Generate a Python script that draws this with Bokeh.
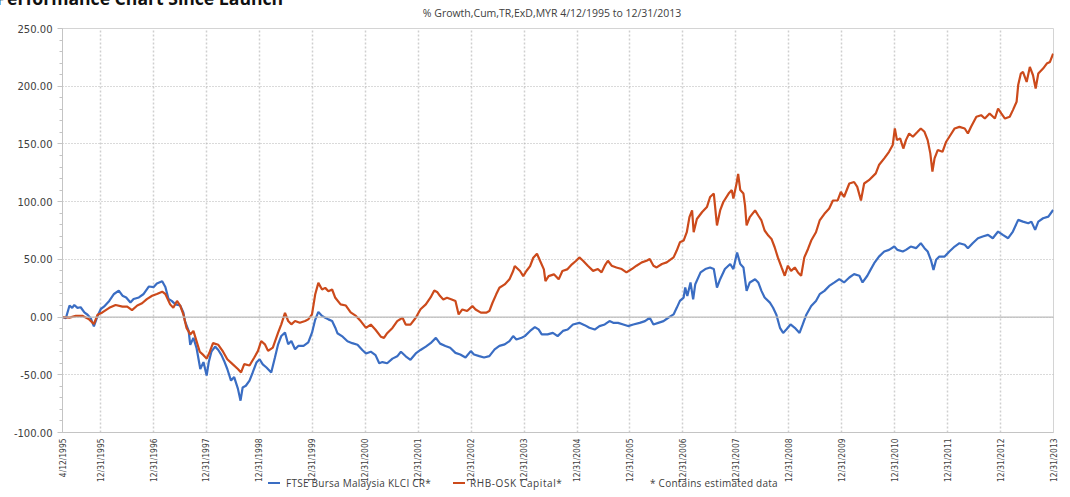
from bokeh.plotting import figure
from bokeh.models import (Range1d, FixedTicker, CustomJSTickFormatter, NumeralTickFormatter,
                          Span, Div)
from bokeh.layouts import column
from bokeh.embed import file_html
from bokeh.resources import INLINE

# ---------------- data (decimal years, % growth) ----------------
x_ticks = [1995.277, 1995.997, 1996.997, 1997.997, 1998.997, 1999.997, 2000.997, 2001.997,
           2002.997, 2003.997, 2004.997, 2005.997, 2006.997, 2007.997, 2008.997, 2009.997,
           2010.997, 2011.997, 2012.997, 2013.997]
x_labels = ["4/12/1995", "12/31/1995", "12/31/1996", "12/31/1997", "12/31/1998", "12/31/1999",
            "12/31/2000", "12/31/2001", "12/31/2002", "12/31/2003", "12/31/2004", "12/31/2005",
            "12/31/2006", "12/31/2007", "12/31/2008", "12/31/2009", "12/31/2010", "12/31/2011",
            "12/31/2012", "12/31/2013"]
y_ticks = [-100, -50, 0, 50, 100, 150, 200, 250]

klci_dates = [
    1995.28, 1995.34, 1995.41, 1995.46, 1995.50, 1995.56, 1995.62, 1995.69, 1995.75, 1995.81, 1995.87, 1995.94,
    1996.00, 1996.06, 1996.16, 1996.25, 1996.34, 1996.41, 1996.48, 1996.56, 1996.62, 1996.72, 1996.81, 1996.91,
    1997.00, 1997.06, 1997.16, 1997.22, 1997.28, 1997.34, 1997.41, 1997.50, 1997.56, 1997.59, 1997.66, 1997.69, 1997.75, 1997.81, 1997.88, 1997.94,
    1998.00, 1998.04, 1998.09, 1998.16, 1998.22, 1998.28, 1998.33, 1998.39, 1998.46, 1998.52, 1998.59, 1998.64, 1998.68, 1998.74, 1998.81, 1998.87, 1998.94,
    1999.00, 1999.06, 1999.13, 1999.22, 1999.29, 1999.35, 1999.41, 1999.48, 1999.54, 1999.60, 1999.67, 1999.73, 1999.83, 1999.92, 1999.99,
    2000.05, 2000.11, 2000.18, 2000.24, 2000.30, 2000.37, 2000.43, 2000.47, 2000.57, 2000.66, 2000.75, 2000.85, 2000.94,
    2001.01, 2001.10, 2001.19, 2001.26, 2001.32, 2001.41, 2001.51, 2001.60, 2001.67, 2001.76, 2001.85, 2001.95,
    2002.04, 2002.14, 2002.23, 2002.33, 2002.41, 2002.51, 2002.60, 2002.70, 2002.79, 2002.89, 2002.99,
    2003.05, 2003.15, 2003.24, 2003.34, 2003.44, 2003.53, 2003.63, 2003.72, 2003.79, 2003.85, 2003.95,
    2004.01, 2004.11, 2004.20, 2004.27, 2004.33, 2004.44, 2004.54, 2004.63, 2004.73, 2004.82, 2004.92,
    2005.04, 2005.14, 2005.23, 2005.33, 2005.42, 2005.52, 2005.61, 2005.68, 2005.77, 2005.87, 2005.96,
    2006.06, 2006.18, 2006.28, 2006.37, 2006.44, 2006.53, 2006.63, 2006.72, 2006.82, 2006.88, 2006.94,
    2007.01, 2007.04, 2007.08, 2007.14, 2007.19, 2007.23, 2007.33, 2007.42, 2007.51, 2007.58, 2007.64, 2007.70, 2007.79, 2007.89, 2007.95,
    2008.02, 2008.08, 2008.14, 2008.20, 2008.26, 2008.36, 2008.42, 2008.48, 2008.54, 2008.64, 2008.70, 2008.76, 2008.83, 2008.89, 2008.95,
    2009.03, 2009.11, 2009.20, 2009.26, 2009.33, 2009.42, 2009.51, 2009.58, 2009.67, 2009.76, 2009.86, 2009.95,
    2010.04, 2010.14, 2010.23, 2010.33, 2010.39, 2010.48, 2010.54, 2010.61, 2010.70, 2010.80, 2010.89, 2010.99,
    2011.05, 2011.15, 2011.21, 2011.30, 2011.40, 2011.49, 2011.56, 2011.62, 2011.68, 2011.73, 2011.78, 2011.84, 2011.94,
    2012.03, 2012.13, 2012.22, 2012.32, 2012.38, 2012.47, 2012.57, 2012.66, 2012.76, 2012.85, 2012.95,
    2013.04, 2013.14, 2013.23, 2013.33, 2013.42, 2013.52, 2013.58, 2013.65, 2013.71, 2013.80, 2013.90, 2013.99,
]
klci_values = [
    0, -1, 10, 8, 10.5, 8, 8.5, 4, 2, -1, -8, 1,
    7, 9, 14, 20, 23, 18.5, 17, 12.6, 15.6, 17, 20, 26.5,
    26, 29, 31, 26, 15.6, 14, 11, 10, 4, -3.5, -12, -24, -18, -27, -45, -39,
    -50.6, -39, -30, -25.6, -28.5, -33, -38, -45, -55, -52, -62, -72.4, -61, -59.5, -55, -48, -39.4,
    -36.5, -41, -43.7, -48, -35, -23.6, -16.4, -13.5, -23.6, -20.7, -27.9, -25, -25, -22, -13.5,
    -2.4, 4.5, 1, -0.6, -2, -3.4, -9.2, -14, -17, -21, -22.6, -24, -28.5,
    -31.5, -30, -33, -40, -39, -40, -36, -34, -30, -34, -37, -31.5,
    -28.5, -25.6, -22.6, -18, -23, -25, -26.6, -31, -32.4, -35, -29.5,
    -32.4, -33.8, -35, -33.8, -28, -25, -23.7, -20.8, -16.5, -19.4, -17.9,
    -16.5, -12, -8.7, -10.7, -15, -15, -13.7, -16.5, -12, -10.8, -6.4,
    -5, -7, -9.3, -10.8, -7.8, -6.4, -3.5, -5, -5, -6.4, -7.8,
    -6.4, -5, -3.5, -0.6, -6.4, -5, -3.5, -0.6, 2.3, 8, 14,
    16.9, 25.6, 18.3, 30, 15.4, 28.5, 38.7, 41.6, 43, 41.6, 25.6, 32.8, 41.6, 46, 41.6,
    56, 46, 43, 22.7, 30, 32.8, 30, 22.7, 16.9, 12.5, 8.1, 2.3, -9.3, -13.7, -10.8,
    -6.4, -9.3, -13.7, -6.4, 2.3, 9.6, 14, 19.8, 22.7, 27, 30, 32.8,
    30, 34.3, 37.2, 35.8, 30, 35.8, 40.9, 46.7, 52.4, 56.8, 58.2, 61.1,
    58.2, 56.8, 58.2, 61.1, 59.7, 64, 59.7, 56.8, 49.6, 40.9, 49.6, 52.4, 52.4,
    56.8, 61.1, 64, 62.6, 59.7, 64, 68.3, 69.8, 71.2, 68.3, 74.1,
    71.2, 68.3, 74.1, 84.2, 82.7, 81.3, 82.7, 75.5, 82.7, 85.6, 87, 92.8,
]

rhb_dates = [
    1995.28, 1995.41, 1995.53, 1995.66, 1995.78, 1995.87, 1995.94,
    1996.03, 1996.16, 1996.28, 1996.41, 1996.50, 1996.59, 1996.69, 1996.78, 1996.87, 1996.97,
    1997.06, 1997.16, 1997.22, 1997.31, 1997.37, 1997.44, 1997.50, 1997.56, 1997.62, 1997.69, 1997.75, 1997.81, 1997.87, 1997.94,
    1998.00, 1998.06, 1998.12, 1998.22, 1998.31, 1998.39, 1998.49, 1998.59, 1998.65, 1998.71, 1998.81, 1998.90, 1998.97,
    1999.03, 1999.10, 1999.16, 1999.25, 1999.35, 1999.41, 1999.48, 1999.54, 1999.60, 1999.67, 1999.76, 1999.86, 1999.92, 1999.99,
    2000.05, 2000.11, 2000.18, 2000.24, 2000.30, 2000.37, 2000.43, 2000.53, 2000.63, 2000.72, 2000.82, 2000.91,
    2001.01, 2001.10, 2001.19, 2001.29, 2001.35, 2001.41, 2001.51, 2001.60, 2001.70, 2001.76, 2001.85, 2001.95,
    2002.04, 2002.14, 2002.23, 2002.30, 2002.36, 2002.41, 2002.47, 2002.54, 2002.63, 2002.70, 2002.76, 2002.83, 2002.92,
    2003.02, 2003.08, 2003.18, 2003.28, 2003.34, 2003.40, 2003.47, 2003.53, 2003.63, 2003.72, 2003.79, 2003.82, 2003.92, 2003.98,
    2004.04, 2004.11, 2004.17, 2004.24, 2004.30, 2004.37, 2004.40, 2004.46, 2004.56, 2004.65, 2004.72, 2004.81, 2004.90, 2004.98,
    2005.04, 2005.11, 2005.20, 2005.30, 2005.39, 2005.46, 2005.52, 2005.58, 2005.65, 2005.74, 2005.84, 2005.93,
    2006.03, 2006.12, 2006.22, 2006.31, 2006.37, 2006.44, 2006.50, 2006.60, 2006.69, 2006.82, 2006.88, 2006.94,
    2007.01, 2007.07, 2007.12, 2007.17, 2007.20, 2007.26, 2007.36, 2007.45, 2007.51, 2007.58, 2007.64, 2007.70, 2007.76, 2007.86, 2007.92, 2007.95,
    2008.01, 2008.04, 2008.08, 2008.14, 2008.17, 2008.20, 2008.26, 2008.36, 2008.42, 2008.48, 2008.54, 2008.61, 2008.67, 2008.73, 2008.79, 2008.86, 2008.92, 2008.98,
    2009.04, 2009.11, 2009.17, 2009.23, 2009.29, 2009.36, 2009.42, 2009.51, 2009.58, 2009.67, 2009.76, 2009.83, 2009.92, 2009.98,
    2010.04, 2010.14, 2010.23, 2010.29, 2010.36, 2010.42, 2010.51, 2010.64, 2010.70, 2010.80, 2010.89, 2010.96,
    2011.00, 2011.04, 2011.10, 2011.16, 2011.21, 2011.27, 2011.34, 2011.43, 2011.49, 2011.56, 2011.62, 2011.67, 2011.71, 2011.75, 2011.81, 2011.90, 2011.97,
    2012.03, 2012.13, 2012.22, 2012.32, 2012.38, 2012.44, 2012.54, 2012.63, 2012.70, 2012.79, 2012.89, 2012.95,
    2013.01, 2013.08, 2013.17, 2013.23, 2013.30, 2013.33, 2013.38, 2013.42, 2013.49, 2013.55, 2013.61, 2013.66, 2013.71, 2013.80, 2013.87, 2013.93, 2013.99,
]
rhb_values = [
    0, -0.5, 1, 1, -2, -6, 2,
    4, 8, 10.5, 9, 9, 6, 10, 12, 15.6, 18.5,
    20, 22, 20, 11, 8, 14, 10, 2.4, -9.4, -15, -12, -21, -30, -33,
    -36, -30, -22.6, -24, -30, -36.5, -40.8, -45, -48, -40.8, -42, -35, -29.3,
    -20.7, -23.6, -29.3, -26.4, -13.5, -6.3, 3.7, -3.4, -6.3, -3.4, -4.9, -3.4, -2, 2.3,
    19.5, 29.6, 23.9, 25.3, 22.4, 23.9, 16.7, 11, 10, 4, 1, -3.5,
    -9.4, -6.5, -11, -17, -18, -14, -9.4, -3.5, -0.6, -6.5, -6.5, -0.6,
    6.8, 11, 17, 23, 21.5, 18.2, 15.3, 16.8, 15.3, 13.9, 2.3, 6.6, 5.2,
    9.5, 6.6, 3.8, 3.8, 5.2, 12.4, 19.7, 25.4, 28.3, 32.7, 39.9, 44.2, 39.9, 35.5,
    39.9, 44.2, 51.4, 54.9, 48.6, 41.3, 31.2, 35.5, 37, 32.7, 39.9, 41.3, 45.7, 48.8,
    51.7, 48.8, 44.5, 40, 41.6, 38.7, 44.5, 48.8, 44.5, 43, 41.6, 38.7,
    41.6, 44.5, 47.4, 48.8, 50.3, 44.5, 43, 46, 47.4, 51.7, 57.6, 64.8,
    66.3, 73.5, 86.6, 92.4, 73.5, 85, 91, 95.3, 104, 107, 79.4, 92.4, 99.7, 107, 110, 102.6,
    115.7, 124, 110, 107, 96.8, 79.4, 86.6, 92.4, 88, 83.7, 75, 70.6, 67.7, 60.5, 51.7, 43, 35.8, 44.5,
    40, 43, 38.7, 35.8, 51.7, 59, 66.3, 73.5, 83.7, 89.5, 94, 101, 101, 108.4,
    104, 115.7, 117, 112.8, 101, 115.7, 118.6, 124.5, 131.7, 137.5, 143.2, 149,
    163.4, 153.3, 154.8, 146, 153.3, 159, 156.2, 160.5, 163.4, 160.5, 153.3, 141.8, 126, 137.5, 144.7, 143.2, 151.9,
    156.2, 163.4, 164.8, 163.4, 159, 164.8, 173.5, 174.9, 172, 176.4, 172, 180.7,
    176.4, 172, 173.5, 179.3, 186.5, 201, 211, 212.4, 203.7, 216.7, 209.5, 198, 211, 215.3, 219.6, 221, 228.2,
]

series_names = ["FTSE Bursa Malaysia KLCI CR*", "RHB-OSK Capital*"]
title_text = "% Growth,Cum,TR,ExD,MYR 4/12/1995 to 12/31/2013"
heading_text = "Performance Chart Since Launch"
note_text = "* Contains estimated data"

BLUE = "#3A6DC3"
ORANGE = "#CC4A1B"
TEXT = "#404040"

W, H = 1070, 497

# ---------------- figure ----------------
p = figure(width=W, height=H, output_backend="svg", toolbar_location=None, title=None,
           x_range=Range1d(x_ticks[0], x_ticks[-1]), y_range=Range1d(-100, 250),
           min_border_left=62, min_border_right=17, min_border_top=28, min_border_bottom=65,
           background_fill_color="white", border_fill_color="white")
p.outline_line_color = "#d4d4d4"

# x axis
p.xaxis.ticker = FixedTicker(ticks=x_ticks)
p.xaxis.formatter = CustomJSTickFormatter(args=dict(tv=x_ticks, labels=x_labels), code="""
    let b = 0;
    for (let i = 0; i < tv.length; i++) {
        if (Math.abs(tv[i] - tick) < Math.abs(tv[b] - tick)) { b = i; }
    }
    return labels[b];
""")
p.xaxis.major_label_orientation = 3.14159265 / 2
p.xaxis.major_label_text_font = "DejaVu Sans Condensed, Liberation Sans Narrow, sans-serif"
p.xaxis.major_label_text_font_size = "8.4px"
p.xaxis.major_label_text_color = TEXT
p.xaxis.major_label_standoff = 6
p.xaxis.major_tick_out = 0
p.xaxis.major_tick_in = 0
p.xaxis.minor_tick_line_color = None
p.xaxis.axis_line_color = "#c4c4c4"

# y axis
p.yaxis.ticker = FixedTicker(ticks=y_ticks, minor_ticks=list(range(-100, 251, 10)))
p.yaxis.formatter = NumeralTickFormatter(format="0.00")
p.yaxis.major_label_text_font = "DejaVu Sans"
p.yaxis.major_label_text_font_size = "10px"
p.yaxis.major_label_text_color = TEXT
p.yaxis.major_label_standoff = 5
p.yaxis.major_tick_out = 5
p.yaxis.major_tick_in = 0
p.yaxis.minor_tick_out = 3
p.yaxis.minor_tick_in = 0
p.yaxis.axis_line_color = "#c4c4c4"
p.yaxis.major_tick_line_color = "#c4c4c4"
p.yaxis.minor_tick_line_color = "#c4c4c4"

# grids
p.xgrid.grid_line_color = "#cfcfcf"
p.xgrid.grid_line_dash = "2 2"
p.xgrid.grid_line_width = 1.5
p.ygrid.grid_line_color = "#b4b4b4"
p.ygrid.grid_line_dash = "1 2"
p.ygrid.grid_line_width = 1

p.add_layout(Span(location=0, dimension="width", line_color="#bcbcbc", line_width=1.3))

# series
p.line(klci_dates, klci_values, line_color=BLUE, line_width=2.2)
p.line(rhb_dates, rhb_values, line_color=ORANGE, line_width=2.2)

# ---------------- texts around the plot (HTML overlay on top of the figure) ----------------
def text_box(txt, left, cy, size="10px", extra=""):
    return (f'<div style="position:absolute;left:{left}px;top:{cy}px;transform:translateY(-50%);'
            f'font-size:{size};line-height:12px;white-space:nowrap;{extra}">{txt}</div>')

def swatch(left, cy, color):
    return (f'<div style="position:absolute;left:{left}px;top:{cy - 1}px;width:12px;height:2px;'
            f'background:{color};"></div>')

overlay_html = (
    f'<div style="position:relative;width:{W}px;height:{H}px;font-family:\'Open Sans\',sans-serif;'
    f'color:{TEXT};">'
    f'<div style="position:absolute;left:-4px;top:-11px;font:bold 17.6px/18px \'Open Sans\',sans-serif;'
    f'color:#111;white-space:nowrap;">{heading_text}</div>'
    f'<div style="position:absolute;left:552px;top:13px;transform:translate(-50%,-50%);'
    f'font-size:10.5px;line-height:12px;white-space:nowrap;">{title_text}</div>'
    + swatch(268, 483, BLUE)
    + text_box(series_names[0], 286, 483, extra="letter-spacing:0.25px;")
    + swatch(453, 483, ORANGE)
    + text_box(series_names[1], 470, 483, extra="letter-spacing:0.6px;")
    + text_box(note_text, 650, 483, extra="letter-spacing:0.25px;")
    + '</div>'
)
overlay = Div(text=overlay_html, width=W, height=H, margin=(-H, 0, 0, 0),
              styles={"margin-top": f"-{H}px", "overflow": "visible"})

layout = column(p, overlay, spacing=0)

open("out.html", "w").write(file_html(layout, INLINE))
